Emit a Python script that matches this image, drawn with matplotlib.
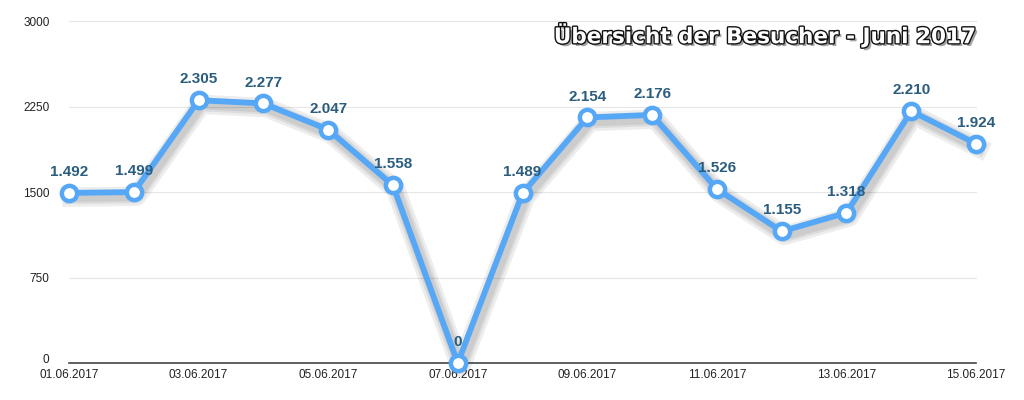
import matplotlib
matplotlib.use('Agg')
import matplotlib.pyplot as plt
import matplotlib.patheffects as pe

# Daten
days = ['01.06.2017', '02.06.2017', '03.06.2017', '04.06.2017', '05.06.2017',
        '06.06.2017', '07.06.2017', '08.06.2017', '09.06.2017', '10.06.2017',
        '11.06.2017', '12.06.2017', '13.06.2017', '14.06.2017', '15.06.2017']
visitors = [1492, 1499, 2305, 2277, 2047, 1558, 0, 1489, 2154, 2176,
            1526, 1155, 1318, 2210, 1924]
y_ticks = [0, 750, 1500, 2250, 3000]

plt.rcParams['font.family'] = ['Liberation Sans', 'DejaVu Sans']

fig = plt.figure(figsize=(10.24, 4), dpi=100)
ax = fig.add_axes([0.0674, 0.0925, 0.8858, 0.855])

x = list(range(len(days)))
blue = '#56a8f7'

# weicher Schatten: mehrere breite, transparente Linien
shadow = [pe.SimpleLineShadow(offset=(2, -3), shadow_color='#000000', alpha=0.07, linewidth=w)
          for w in (14, 10, 7)]
ax.plot(x, visitors, color=blue, lw=4.2, zorder=3,
        path_effects=shadow + [pe.Normal()])
ax.plot(x, visitors, 'o', ms=11, mfc='white', mec=blue, mew=3.2, zorder=4)

for xi, v in zip(x, visitors):
    label = f'{v:,}'.replace(',', '.')
    ax.annotate(label, (xi, v), xytext=(0, 10), textcoords='offset points',
                ha='center', va='bottom', fontsize=11, fontweight='bold',
                color='#2b5d7e', zorder=5)

ax.set_xlim(0, len(days) - 1)
ax.set_ylim(0, 3000)
ax.set_yticks(y_ticks)
ax.set_yticklabels([str(t) for t in y_ticks])
ax.set_xticks(x[::2])
ax.set_xticklabels(days[::2])
ax.tick_params(axis='both', length=0, labelsize=8.5, colors='#222222')
ax.tick_params(axis='y', pad=14)
ax.tick_params(axis='x', pad=4)
ax.get_yticklabels()[0].set_va('baseline')

for t in y_ticks[1:]:
    ax.axhline(t, color='#e6e6e6', lw=0.8, zorder=1)

for s in ['top', 'right', 'left']:
    ax.spines[s].set_visible(False)
ax.spines['bottom'].set_color('#444444')
ax.spines['bottom'].set_linewidth(1.2)

for artist in ax.lines:
    artist.set_clip_on(False)

fig.text(0.952, 0.912, 'Übersicht der Besucher - Juni 2017', ha='right', va='center',
         fontsize=15.5, fontweight='bold', color='white', family='DejaVu Sans',
         path_effects=[pe.withSimplePatchShadow(offset=(2, -2), shadow_rgbFace='#666666', alpha=0.6),
                       pe.withStroke(linewidth=2.0, foreground='#111111')])

fig.savefig('out.png', dpi=100)
